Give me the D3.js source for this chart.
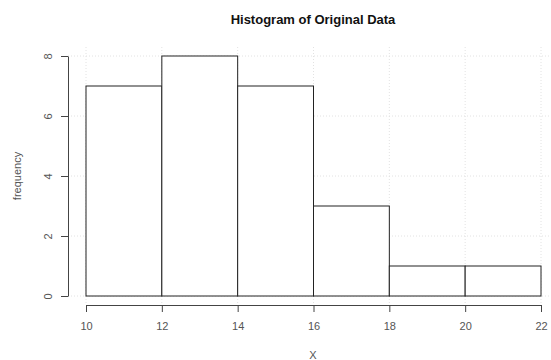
<!DOCTYPE html>
<html>
  <head>
    <meta charset="utf-8" />
    <script src="https://d3js.org/d3.v7.min.js"></script>
    <title>Histogram of Original Data</title>
    <style>
      body {
        margin: 0px;
        font-family: 'Liberation Sans', Arial, sans-serif;
        background: white;
      }
      .axis path,
      .axis line {
        stroke: #444;
      }
      .axis text {
        fill: #555;
        font-size: 11px;
      }
      .grid line {
        stroke: #e2e2e2;
        stroke-dasharray: 1, 2;
      }
    </style>
  </head>
  <body>
    <script>
      const breaks = [10, 12, 14, 16, 18, 20, 22];
      const counts = [7, 8, 7, 3, 1, 1];
      const yTicks = [0, 2, 4, 6, 8];
      const title = 'Histogram of Original Data';
      const xLabel = 'X';
      const yLabel = 'frequency';

      const width = 551;
      const height = 360;
      // plot region (R style: grid fills it, axes sit outside)
      const region = { left: 68, right: 550, top: 47, bottom: 305 };

      const bins = counts.map((c, i) => ({
        x0: breaks[i],
        x1: breaks[i + 1],
        count: c,
      }));

      const svg = d3
        .select('body')
        .append('svg')
        .attr('width', width)
        .attr('height', height);

      const xScale = d3.scaleLinear().domain([10, 22]).range([86, 541]);
      const yScale = d3.scaleLinear().domain([0, 8]).range([296, 56]);

      // grid
      const grid = svg.append('g').attr('class', 'grid');
      grid
        .selectAll('.vgrid')
        .data(breaks)
        .enter()
        .append('line')
        .attr('x1', xScale)
        .attr('x2', xScale)
        .attr('y1', region.top)
        .attr('y2', region.bottom);
      grid
        .selectAll('.hgrid')
        .data(yTicks)
        .enter()
        .append('line')
        .attr('x1', region.left)
        .attr('x2', region.right)
        .attr('y1', yScale)
        .attr('y2', yScale);

      // bars
      svg
        .append('g')
        .selectAll('rect')
        .data(bins)
        .enter()
        .append('rect')
        .attr('x', (d) => xScale(d.x0))
        .attr('y', (d) => yScale(d.count))
        .attr('width', (d) => xScale(d.x1) - xScale(d.x0))
        .attr('height', (d) => yScale(0) - yScale(d.count))
        .attr('fill', 'white')
        .attr('stroke', '#222')
        .attr('stroke-width', 1);

      // x axis
      const xAxisG = svg
        .append('g')
        .attr('class', 'axis')
        .attr('transform', `translate(0,${region.bottom})`)
        .call(d3.axisBottom(xScale).tickValues(breaks).tickSize(7).tickSizeOuter(0));
      xAxisG.selectAll('text').attr('y', 17);

      // y axis
      const yAxisG = svg
        .append('g')
        .attr('class', 'axis')
        .attr('transform', `translate(${region.left},0)`)
        .call(d3.axisLeft(yScale).tickValues(yTicks).tickSize(7).tickSizeOuter(0));
      yAxisG
        .selectAll('text')
        .attr('x', 0)
        .attr('dy', 0)
        .attr('text-anchor', 'middle')
        .attr('transform', 'translate(-16,0) rotate(-90)');

      svg
        .append('text')
        .attr('x', 313)
        .attr('y', 24)
        .attr('text-anchor', 'middle')
        .attr('font-weight', 'bold')
        .attr('font-size', '13px')
        .attr('fill', '#111')
        .text(title);

      svg
        .append('text')
        .attr('x', 313)
        .attr('y', 359)
        .attr('text-anchor', 'middle')
        .attr('font-size', '11px')
        .attr('fill', '#555')
        .text(xLabel);

      svg
        .append('text')
        .attr('transform', 'translate(21,176) rotate(-90)')
        .attr('text-anchor', 'middle')
        .attr('font-size', '11px')
        .attr('fill', '#555')
        .text(yLabel);
    </script>
  </body>
</html>
